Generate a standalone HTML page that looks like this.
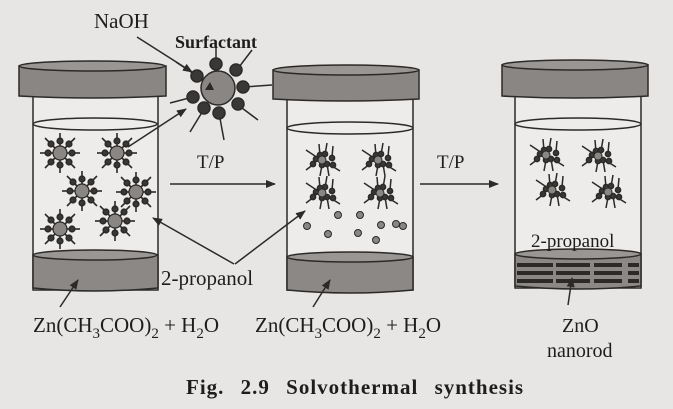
<!DOCTYPE html>
<html><head><style>
html,body{margin:0;padding:0;background:#e8e6e5;}
svg{display:block;}
text{font-family:"Liberation Serif",serif;fill:#1f1d1c;}
</style></head><body>
<svg width="673" height="409" viewBox="0 0 673 409" xmlns="http://www.w3.org/2000/svg">
<defs>
<g id="cl">
 <g stroke="#2b2a28" stroke-width="1.6" fill="#3a3836">
  <line x1="0" y1="-6" x2="0" y2="-20"/><circle cx="0" cy="-12" r="2.8"/>
  <line x1="0" y1="6" x2="0" y2="20"/><circle cx="0" cy="12" r="2.8"/>
  <line x1="-6" y1="0" x2="-20" y2="0"/><circle cx="-12" cy="0" r="2.8"/>
  <line x1="6" y1="0" x2="20" y2="0"/><circle cx="12" cy="0" r="2.8"/>
  <line x1="5" y1="5" x2="15" y2="15"/><circle cx="9" cy="9" r="2.8"/>
  <line x1="-5" y1="5" x2="-15" y2="15"/><circle cx="-9" cy="9" r="2.8"/>
  <line x1="5" y1="-5" x2="15" y2="-15"/><circle cx="9" cy="-9" r="2.8"/>
  <line x1="-5" y1="-5" x2="-15" y2="-15"/><circle cx="-9" cy="-9" r="2.8"/>
 </g>
 <circle r="7" fill="#8a8684" stroke="#2b2a28" stroke-width="1.2"/>
</g>
<g id="tp">
 <g stroke="#2b2a28" stroke-width="1.5" fill="#3a3836">
  <line x1="-4" y1="-2" x2="-16" y2="-10"/><circle cx="-6" cy="-1" r="2.6"/>
  <line x1="-2" y1="-4" x2="-3" y2="-16"/><circle cx="-2" cy="-5" r="2.6"/>
  <line x1="3" y1="-5" x2="5" y2="-17"/><circle cx="3" cy="-6" r="2.6"/>
  <line x1="10" y1="-3" x2="11" y2="-14"/><circle cx="10" cy="-2" r="2.6"/>
  <line x1="-8" y1="4" x2="-16" y2="10"/><circle cx="-9" cy="4" r="2.6"/>
  <line x1="0" y1="5" x2="-2" y2="16"/><circle cx="0" cy="5" r="2.6"/>
  <line x1="5" y1="4" x2="7" y2="16"/><circle cx="5" cy="4" r="2.6"/>
  <line x1="10" y1="6" x2="18" y2="11"/><circle cx="11" cy="5" r="2.6"/>
 </g>
 <circle r="4" fill="#8a8684" stroke="#2b2a28" stroke-width="1"/>
</g>
<marker id="ar" markerWidth="10" markerHeight="8" refX="9" refY="4" orient="auto" markerUnits="userSpaceOnUse">
 <path d="M0,0 L10,4 L0,8 z" fill="#2b2a28"/>
</marker>
</defs>

<!-- Jar 1 -->
<g stroke="#2b2a28" stroke-width="1.5">
 <rect x="33" y="96" width="125" height="194" fill="#eeecea"/>
 <path d="M33,255 Q95,248 158,255 L158,288 Q95,294 33,288 Z" fill="#8c8886"/>
 <ellipse cx="95" cy="255" rx="62" ry="5" fill="#9a9694"/>
 <ellipse cx="95" cy="124" rx="62" ry="6" fill="none"/>
 <path d="M19,66 L166,66 L166,96 Q92,100 19,96 Z" fill="#8a8684"/>
 <ellipse cx="92" cy="66" rx="73" ry="5" fill="#9a9694"/>
</g>
<use href="#cl" x="60" y="153"/><use href="#cl" x="117" y="153"/>
<use href="#cl" x="82" y="191"/><use href="#cl" x="136" y="192"/>
<use href="#cl" x="115" y="221"/><use href="#cl" x="60" y="229"/>

<!-- Jar 2 -->
<g stroke="#2b2a28" stroke-width="1.5">
 <rect x="287" y="98" width="126" height="192" fill="#eeecea"/>
 <path d="M287,257 Q350,250 413,257 L413,290 Q350,296 287,290 Z" fill="#8c8886"/>
 <ellipse cx="350" cy="257" rx="63" ry="5" fill="#9a9694"/>
 <ellipse cx="350" cy="128" rx="63" ry="6" fill="none"/>
 <path d="M273,70 L419,70 L419,99 Q346,103 273,99 Z" fill="#8a8684"/>
 <ellipse cx="346" cy="70" rx="73" ry="5" fill="#9a9694"/>
</g>
<use href="#tp" x="322" y="160"/><use href="#tp" x="378" y="160"/>
<use href="#tp" x="322" y="193"/><use href="#tp" x="380" y="193"/>
<g fill="#8a8684" stroke="#2b2a28" stroke-width="1">
 <circle cx="338" cy="215" r="3.5"/><circle cx="360" cy="215" r="3.5"/><circle cx="396" cy="224" r="3.5"/>
 <circle cx="307" cy="226" r="3.5"/><circle cx="381" cy="225" r="3.5"/><circle cx="403" cy="226" r="3.5"/>
 <circle cx="328" cy="234" r="3.5"/><circle cx="358" cy="233" r="3.5"/><circle cx="376" cy="240" r="3.5"/>
</g>

<!-- Jar 3 -->
<g stroke="#2b2a28" stroke-width="1.5">
 <rect x="515" y="96" width="126" height="192" fill="#eeecea"/>
 <path d="M515,254 Q578,247 641,254 L641,286 Q578,292 515,286 Z" fill="#8c8886"/>
 <ellipse cx="578" cy="254" rx="63" ry="5" fill="#9a9694"/>
 <ellipse cx="578" cy="124" rx="63" ry="6" fill="none"/>
 <path d="M502,65 L648,65 L648,96 Q575,100 502,96 Z" fill="#8a8684"/>
 <ellipse cx="575" cy="65" rx="73" ry="5" fill="#9a9694"/>
</g>
<g fill="#2b2a28">
 <rect x="517" y="263" width="36" height="4"/><rect x="556" y="263" width="34" height="4"/>
 <rect x="594" y="263" width="28" height="4"/><rect x="628" y="263" width="11" height="4"/>
 <rect x="517" y="271" width="36" height="4"/><rect x="556" y="271" width="34" height="4"/>
 <rect x="594" y="271" width="28" height="4"/><rect x="628" y="271" width="11" height="4"/>
 <rect x="517" y="279" width="36" height="4"/><rect x="556" y="279" width="34" height="4"/>
 <rect x="594" y="279" width="28" height="4"/><rect x="628" y="279" width="11" height="4"/>
</g>
<use href="#tp" x="546" y="155"/><use href="#tp" x="598" y="156"/>
<use href="#tp" x="552" y="190"/><use href="#tp" x="608" y="192"/>

<!-- Big surfactant -->
<g stroke="#2b2a28" stroke-width="1.5" fill="#3a3836">
 <line x1="216" y1="64" x2="216" y2="46"/><circle cx="216" cy="64" r="6"/>
 <line x1="236" y1="71" x2="252" y2="50"/><circle cx="236" cy="70" r="6"/>
 <line x1="244" y1="87" x2="272" y2="85"/><circle cx="243" cy="87" r="6"/>
 <line x1="238" y1="105" x2="258" y2="120"/><circle cx="238" cy="104" r="6"/>
 <line x1="219" y1="113" x2="224" y2="140"/><circle cx="219" cy="113" r="6"/>
 <line x1="204" y1="109" x2="190" y2="132"/><circle cx="204" cy="108" r="6"/>
 <line x1="193" y1="97" x2="170" y2="103"/><circle cx="193" cy="97" r="6"/>
 <line x1="197" y1="76" x2="176" y2="62"/><circle cx="197" cy="76" r="6"/>
</g>
<circle cx="218" cy="88" r="17" fill="#8a8684" stroke="#2b2a28" stroke-width="1.5"/>
<path d="M205,90 L210,82 L214,90 Z" fill="#2b2a28"/>

<!-- Arrows -->
<g stroke="#2b2a28" stroke-width="1.5" fill="none" marker-end="url(#ar)">
 <line x1="137" y1="37" x2="192" y2="72"/>
 <line x1="128" y1="147" x2="186" y2="109"/>
 <line x1="170" y1="184" x2="275" y2="184"/>
 <line x1="420" y1="184" x2="498" y2="184"/>
 <line x1="234" y1="264" x2="153" y2="218"/>
 <line x1="235" y1="264" x2="305" y2="211"/>
 <line x1="60" y1="307" x2="78" y2="280"/>
 <line x1="313" y1="307" x2="330" y2="280"/>
 <line x1="568" y1="305" x2="572" y2="278"/>
</g>

<!-- Text -->
<text x="94" y="28" font-size="21">NaOH</text>
<text x="175" y="48" font-size="18" font-weight="bold">Surfactant</text>
<text x="197" y="168" font-size="19">T/P</text>
<text x="437" y="168" font-size="19">T/P</text>
<text x="161" y="285" font-size="21">2-propanol</text>
<text x="531" y="247" font-size="19">2-propanol</text>
<text x="33" y="332" font-size="21">Zn(CH<tspan font-size="15" dy="6">3</tspan><tspan dy="-6">COO)</tspan><tspan font-size="15" dy="6">2</tspan><tspan dy="-6"> + H</tspan><tspan font-size="15" dy="6">2</tspan><tspan dy="-6">O</tspan></text>
<text x="255" y="332" font-size="21">Zn(CH<tspan font-size="15" dy="6">3</tspan><tspan dy="-6">COO)</tspan><tspan font-size="15" dy="6">2</tspan><tspan dy="-6"> + H</tspan><tspan font-size="15" dy="6">2</tspan><tspan dy="-6">O</tspan></text>
<text x="562" y="332" font-size="20">ZnO</text>
<text x="547" y="357" font-size="20">nanorod</text>
<text x="186" y="394" font-size="21" font-weight="bold" letter-spacing="1" word-spacing="10">Fig. 2.9 Solvothermal synthesis</text>
</svg>
</body></html>
